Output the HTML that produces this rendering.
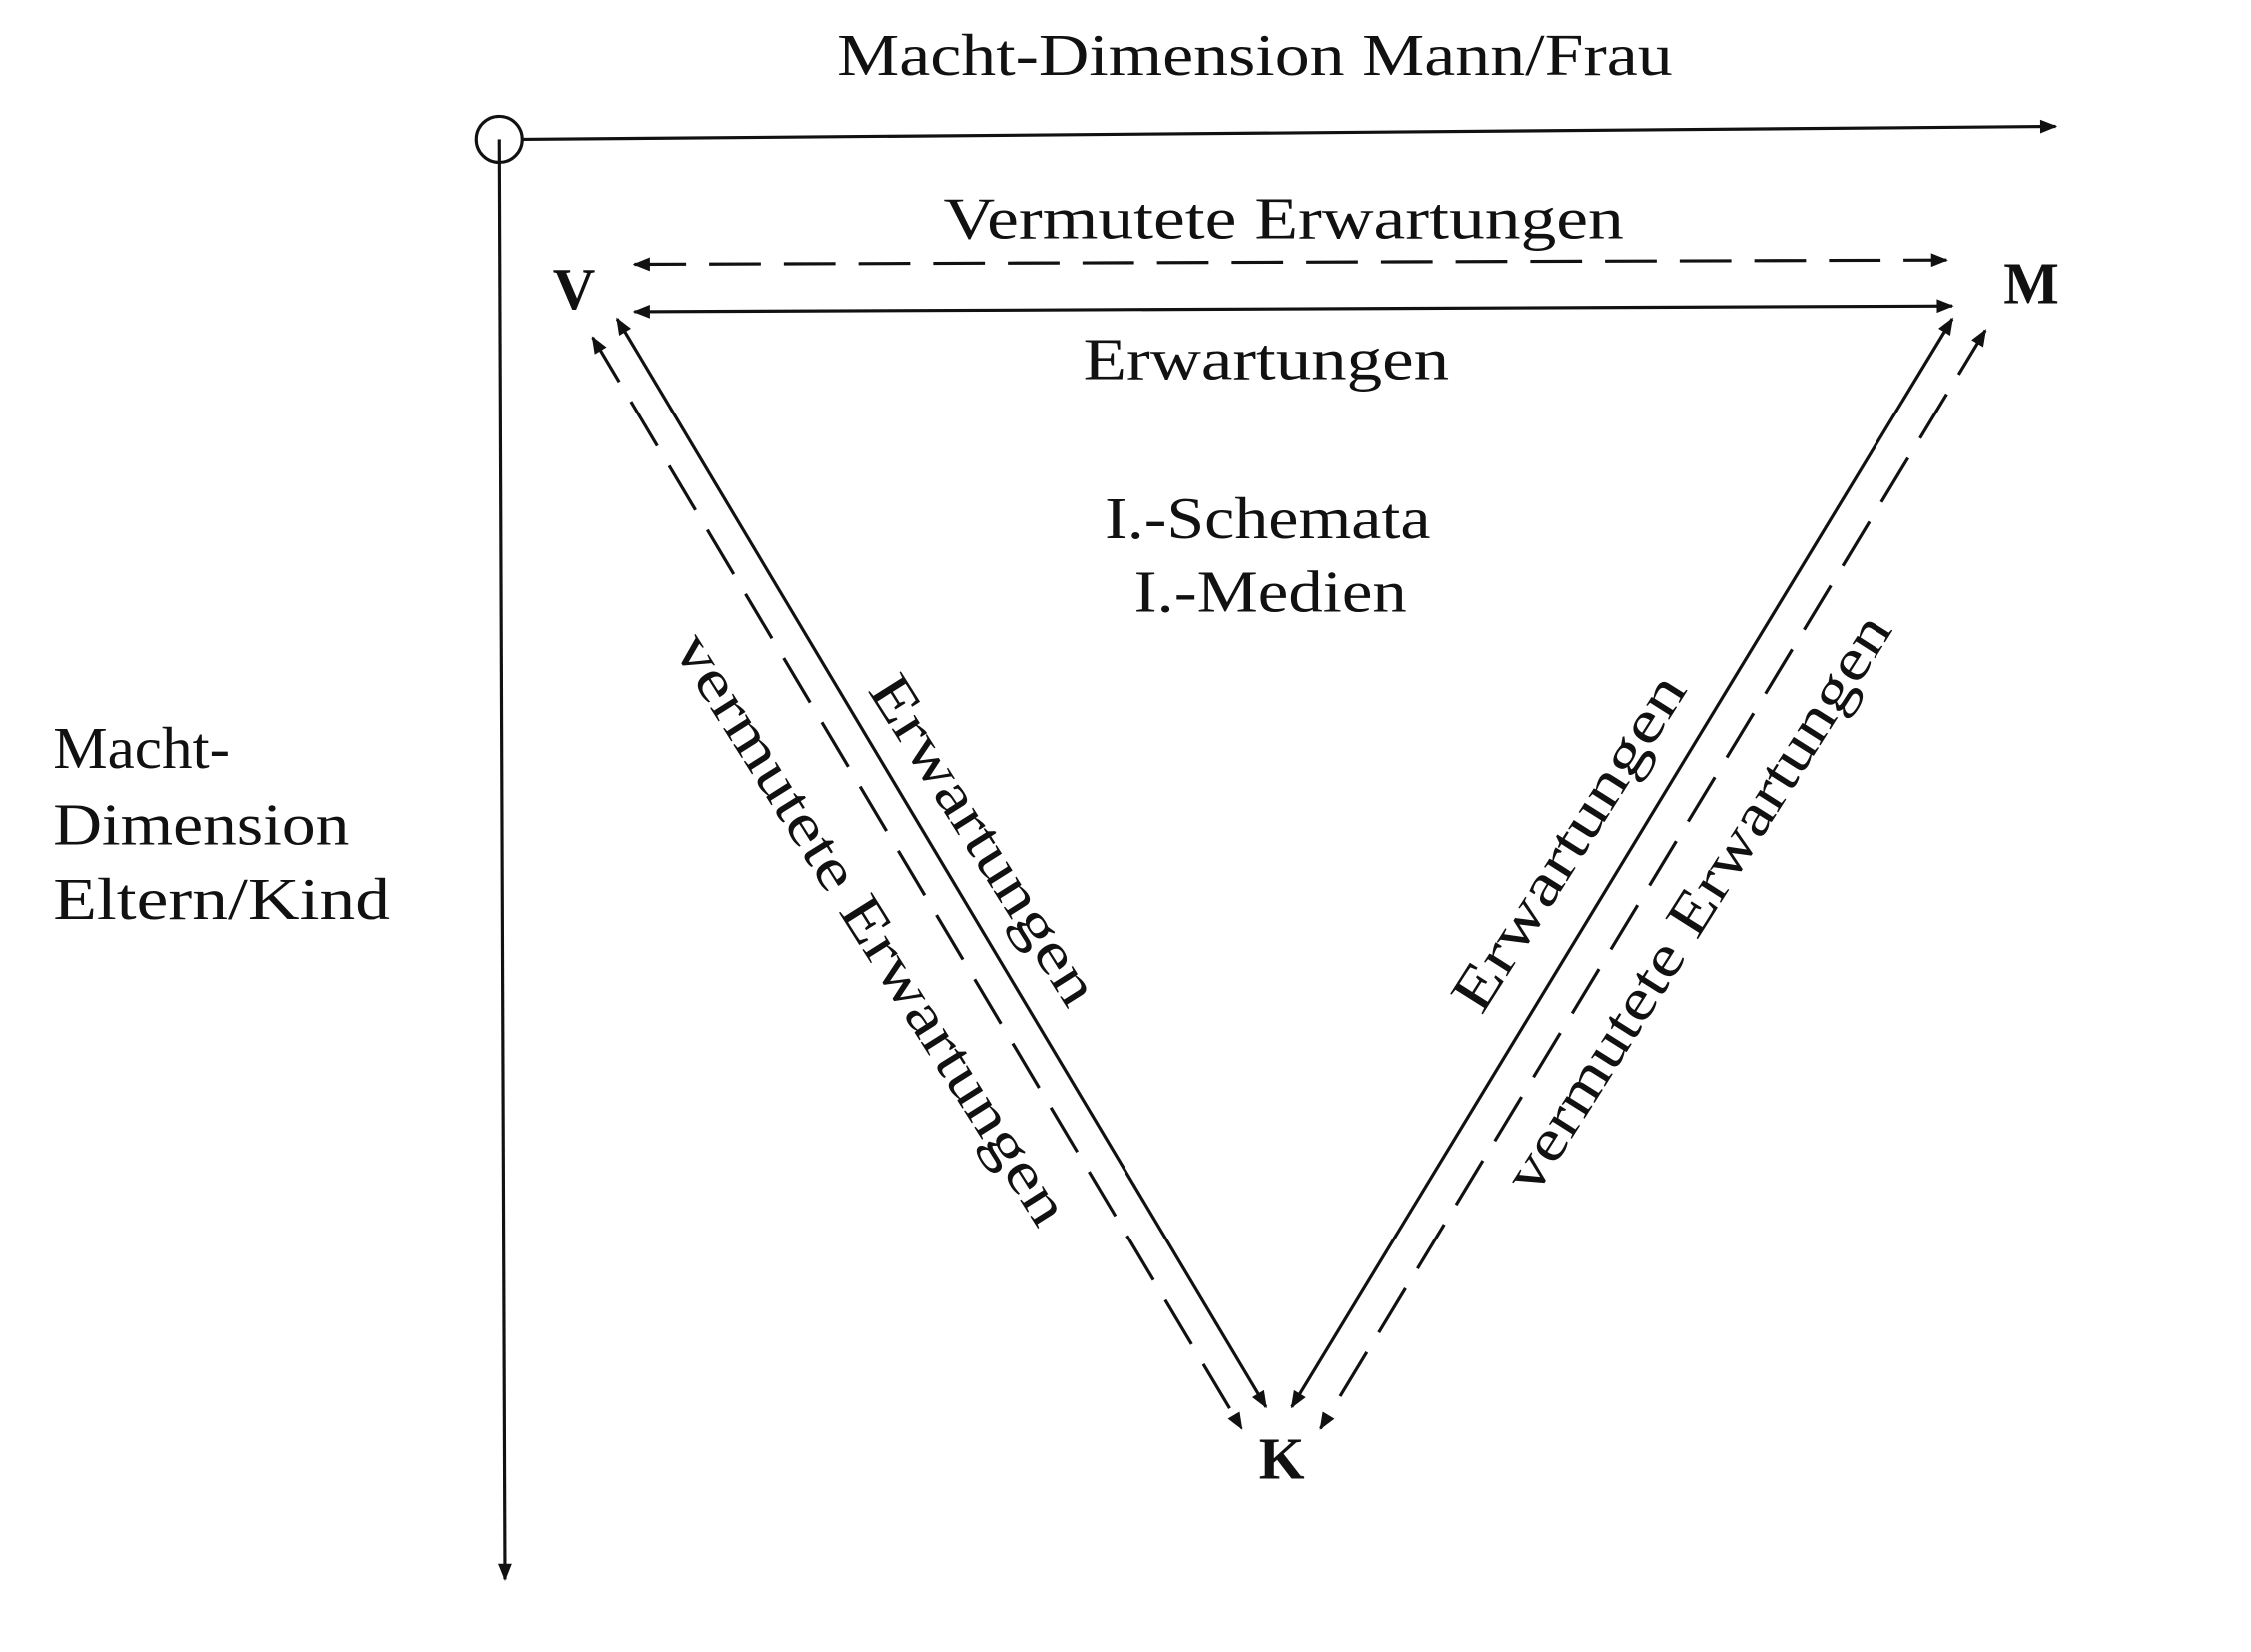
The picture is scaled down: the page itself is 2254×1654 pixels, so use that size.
<!DOCTYPE html>
<html><head><meta charset="utf-8">
<style>
html,body{margin:0;padding:0;background:#fff;}
svg{display:block;}
text{font-family:"Liberation Serif",serif;fill:#111;}
</style></head>
<body>
<svg width="2254" height="1654" viewBox="0 0 1568 1150.6" xmlns="http://www.w3.org/2000/svg">
<defs>
<marker id="b" viewBox="0 0 10 10" refX="9" refY="5" markerWidth="26" markerHeight="12" markerUnits="userSpaceOnUse" orient="auto-start-reverse">
<path d="M0,1 L10,5 L0,9 z" fill="#111"/>
</marker>
</defs>
<g stroke="#111" fill="none" stroke-width="2.2">
<circle cx="348" cy="97" r="16"/>
<line x1="364" y1="97" x2="1432" y2="88" marker-end="url(#b)"/>
<line x1="348" y1="97" x2="352" y2="1100" marker-end="url(#b)"/>
<line x1="442" y1="184" x2="1356" y2="181" stroke-dasharray="36,16" marker-start="url(#b)" marker-end="url(#b)"/>
<line x1="442" y1="217" x2="1360" y2="213" marker-start="url(#b)" marker-end="url(#b)"/>
<line x1="430" y1="222" x2="882" y2="980" marker-start="url(#b)" marker-end="url(#b)"/>
<line x1="413" y1="235" x2="865" y2="995" stroke-dasharray="36,16" marker-start="url(#b)" marker-end="url(#b)"/>
<line x1="1360" y1="222" x2="900" y2="980" marker-start="url(#b)" marker-end="url(#b)"/>
<line x1="1383" y1="230" x2="920" y2="995" stroke-dasharray="36,16" marker-start="url(#b)" marker-end="url(#b)"/>
</g>
<g font-size="41" text-anchor="middle">
<text x="874" y="52" textLength="582" lengthAdjust="spacingAndGlyphs">Macht-Dimension Mann/Frau</text>
<text x="894" y="166" textLength="474" lengthAdjust="spacingAndGlyphs">Vermutete Erwartungen</text>
<text x="882" y="264" textLength="255" lengthAdjust="spacingAndGlyphs">Erwartungen</text>
<text x="883" y="375" textLength="227" lengthAdjust="spacingAndGlyphs">I.-Schemata</text>
<text x="885" y="426" textLength="190" lengthAdjust="spacingAndGlyphs">I.-Medien</text>
<text x="400" y="215" font-weight="bold">V</text>
<text x="1415" y="211" font-weight="bold">M</text>
<text x="893" y="1030" font-weight="bold">K</text>
<text transform="translate(674,592) rotate(57.8)" textLength="263" lengthAdjust="spacingAndGlyphs">Erwartungen</text>
<text transform="translate(596,654) rotate(57.8)" textLength="478" lengthAdjust="spacingAndGlyphs">vermutete Erwartungen</text>
<text transform="translate(1104,594) rotate(-57.7)" textLength="269" lengthAdjust="spacingAndGlyphs">Erwartungen</text>
<text transform="translate(1194,636) rotate(-57.7)" textLength="467" lengthAdjust="spacingAndGlyphs">vermutete Erwartungen</text>
</g>
<g font-size="41">
<text x="37" y="535" textLength="123" lengthAdjust="spacingAndGlyphs">Macht-</text>
<text x="37" y="588" textLength="206" lengthAdjust="spacingAndGlyphs">Dimension</text>
<text x="37" y="640" textLength="235" lengthAdjust="spacingAndGlyphs">Eltern/Kind</text>
</g>
</svg>
</body></html>
